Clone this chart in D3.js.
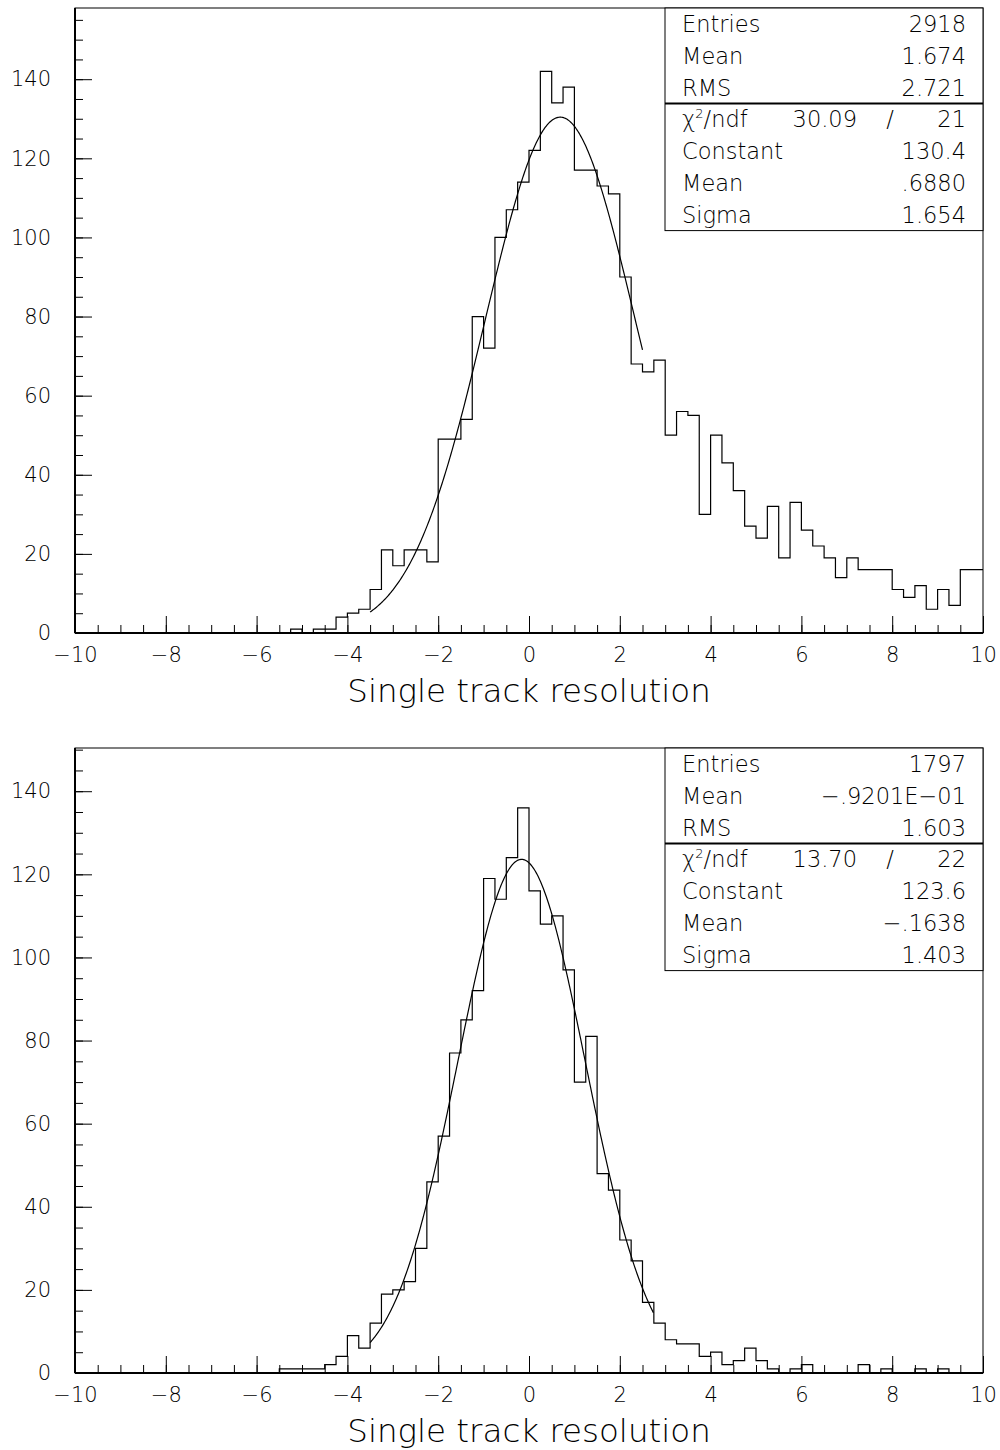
<!DOCTYPE html>
<html>
<head>
<meta charset="utf-8">
<script src="https://cdn.jsdelivr.net/npm/d3@7"></script>
<style>
  body { margin: 0; background: #fff; }
  text { font-family: "DejaVu Sans", sans-serif; font-weight: 200; fill: #000; }
</style>
</head>
<body>
<div id="chart"></div>
<script>
// bin counts, 80 bins of 0.25 from -10 to 10
var binEdges = d3.range(0, 81).map(function(i) { return -10 + i * 0.25; });

var topCounts = [
  0,0,0,0,0,0,0,0,0,0, 0,0,0,0,0,0,0,0,0,1,
  0,1,1,4,5,6,11,21,17,21, 21,18,49,49,54,80,72,100,107,114,
  122,142,134,138,117,117,113,111,90,68, 66,69,50,56,55,30,50,43,36,27,
  24,32,19,33,26,22,19,14,19,16, 16,16,11,9,12,6,11,7,16,16
];

var bottomCounts = [
  0,0,0,0,0,0,0,0,0,0, 0,0,0,0,0,0,0,0,1,1,
  1,1,2,4,9,6,12,19,20,22, 30,46,57,77,85,92,119,114,124,136,
  116,108,110,97,70,81,48,44,32,27, 17,12,8,7,7,4,5,2,3,6,
  3,1,0,1,2,0,0,0,0,2, 0,1,0,0,1,0,1,0,0,0
];

// stats box rows
var topStats = [["Entries", "2918"], ["Mean", "1.674"], ["RMS", "2.721"]];
var topFit = {chi2: "30.09", ndf: "21", rows: [["Constant", "130.4"], ["Mean", ".6880"], ["Sigma", "1.654"]]};
var bottomStats = [["Entries", "1797"], ["Mean", "\u2212.9201E\u221201"], ["RMS", "1.603"]];
var bottomFit = {chi2: "13.70", ndf: "22", rows: [["Constant", "123.6"], ["Mean", "\u2212.1638"], ["Sigma", "1.403"]]};

// gaussian fit parameters and fit range
var topGauss = {c: 130.4, mean: 0.688, sigma: 1.654, from: -3.5, to: 2.5};
var bottomGauss = {c: 123.6, mean: -0.1638, sigma: 1.403, from: -3.5, to: 2.75};

var xTicks = [-10, -8, -6, -4, -2, 0, 2, 4, 6, 8, 10];
var yTicks = [0, 20, 40, 60, 80, 100, 120, 140];

var width = 1000, height = 1450;
var margin = {left: 75, right: 17};

var svg = d3.select("#chart").append("svg")
    .attr("width", width)
    .attr("height", height);

function drawPanel(top, bottom, yMax, counts, stats, fit, gauss) {
  var g = svg.append("g");

  var xScale = d3.scaleLinear().domain([-10, 10]).range([margin.left, width - margin.right]);
  var yScale = d3.scaleLinear().domain([0, yMax]).range([bottom, top]);

  // frame
  g.append("rect")
      .attr("x", margin.left).attr("y", top)
      .attr("width", xScale(10) - margin.left).attr("height", bottom - top)
      .attr("fill", "none").attr("stroke", "#000").attr("stroke-width", 1);

  // y axis, major + minor
  var yAxis = g.append("g")
      .attr("transform", `translate(${margin.left},0)`)
      .call(d3.axisLeft(yScale).tickValues(yTicks).tickSize(-17).tickPadding(24)
        .tickFormat(d3.format("d")));
  var yMinor = g.append("g")
      .attr("transform", `translate(${margin.left},0)`)
      .call(d3.axisLeft(yScale).tickValues(d3.range(0, yMax, 5)).tickSize(-8).tickFormat(""));

  // x axis, major + minor
  var xAxis = g.append("g")
      .attr("transform", `translate(0,${bottom})`)
      .call(d3.axisBottom(xScale).tickValues(xTicks).tickSize(-17).tickPadding(14)
        .tickFormat(function(d) { return d < 0 ? "\u2212" + Math.abs(d) : d; }));
  var xMinor = g.append("g")
      .attr("transform", `translate(0,${bottom})`)
      .call(d3.axisBottom(xScale).tickValues(d3.range(-10, 10.01, 0.5)).tickSize(-8).tickFormat(""));

  [yAxis, yMinor, xAxis, xMinor].forEach(function(a) {
    a.select(".domain").remove();
    a.selectAll("line").attr("stroke", "#000").attr("stroke-width", 1);
    a.selectAll("text").style("font-size", "21px");
  });

  // thicker axis lines
  g.append("line")
      .attr("x1", margin.left).attr("x2", margin.left)
      .attr("y1", top).attr("y2", bottom)
      .attr("stroke", "#000").attr("stroke-width", 2);
  g.append("line")
      .attr("x1", margin.left).attr("x2", xScale(10))
      .attr("y1", bottom).attr("y2", bottom)
      .attr("stroke", "#000").attr("stroke-width", 2);

  // histogram outline
  var pts = counts.map(function(c, i) { return [binEdges[i], c]; });
  pts.push([binEdges[80], counts[79]]);
  var line = d3.line()
      .x(function(d) { return xScale(d[0]); })
      .y(function(d) { return yScale(d[1]); })
      .curve(d3.curveStepAfter);
  g.append("path")
      .attr("d", line(pts))
      .attr("fill", "none").attr("stroke", "#000").attr("stroke-width", 1.2);

  // fit curve
  var fx = d3.range(gauss.from, gauss.to + 0.0001, 0.02);
  var fitPts = fx.map(function(x) {
    var z = (x - gauss.mean) / gauss.sigma;
    return [x, gauss.c * Math.exp(-0.5 * z * z)];
  });
  g.append("path")
      .attr("d", d3.line().x(function(d) { return xScale(d[0]); }).y(function(d) { return yScale(d[1]); })(fitPts))
      .attr("fill", "none").attr("stroke", "#000").attr("stroke-width", 1.2);

  // stats box
  var boxL = 665, boxR = xScale(10), rowH = 31.8;
  var box = g.append("g");
  box.append("rect")
      .attr("x", boxL).attr("y", top)
      .attr("width", boxR - boxL).attr("height", rowH * 7)
      .attr("fill", "#fff").attr("stroke", "#000").attr("stroke-width", 1);
  box.append("line")
      .attr("x1", boxL).attr("x2", boxR)
      .attr("y1", top + rowH * 3).attr("y2", top + rowH * 3)
      .attr("stroke", "#000").attr("stroke-width", 2);

  var fs = "22.5px";
  var rows = stats.concat([null]).concat(fit.rows);
  rows.forEach(function(r, i) {
    var yb = top + rowH * i + 24;
    if (r === null) {
      var t = box.append("text").attr("x", boxL + 17).attr("y", yb).style("font-size", fs);
      t.append("tspan").text("\u03c7");
      t.append("tspan").attr("dy", -9).style("font-size", "13px").text("2");
      t.append("tspan").attr("dy", 9).text("/ndf");
      box.append("text").attr("x", 857).attr("y", yb).attr("text-anchor", "end")
          .style("font-size", fs).text(fit.chi2);
      box.append("text").attr("x", 890).attr("y", yb).attr("text-anchor", "middle")
          .style("font-size", fs).text("/");
      box.append("text").attr("x", boxR - 17).attr("y", yb).attr("text-anchor", "end")
          .style("font-size", fs).text(fit.ndf);
      return;
    }
    box.append("text").attr("x", boxL + 17).attr("y", yb).style("font-size", fs).text(r[0]);
    box.append("text").attr("x", boxR - 17).attr("y", yb).attr("text-anchor", "end")
        .style("font-size", fs).text(r[1]);
  });

  // axis title
  g.append("text")
      .attr("x", (margin.left + xScale(10)) / 2)
      .attr("y", bottom + 69)
      .attr("text-anchor", "middle")
      .style("font-size", "32.5px")
      .text("Single track resolution");
}

drawPanel(8, 633, 158, topCounts, topStats, topFit, topGauss);
drawPanel(748, 1373, 150.4, bottomCounts, bottomStats, bottomFit, bottomGauss);
</script>
</body>
</html>
